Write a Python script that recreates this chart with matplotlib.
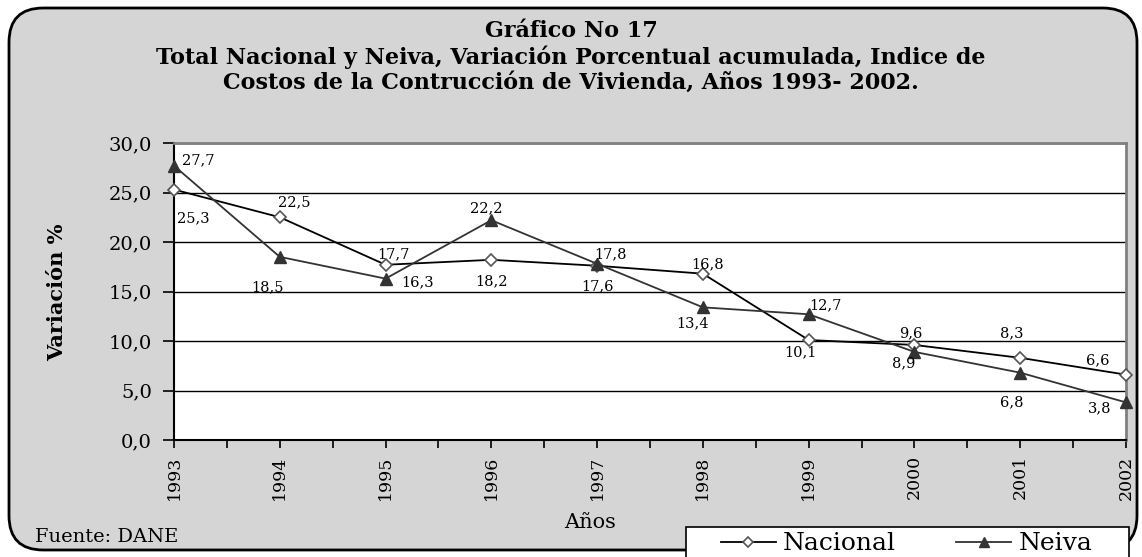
import matplotlib
matplotlib.use("Agg")
import matplotlib.pyplot as plt
from matplotlib.patches import FancyBboxPatch, Rectangle
from matplotlib.ticker import MultipleLocator, FuncFormatter

years = [1993, 1994, 1995, 1996, 1997, 1998, 1999, 2000, 2001, 2002]
nacional = [25.3, 22.5, 17.7, 18.2, 17.6, 16.8, 10.1, 9.6, 8.3, 6.6]
neiva = [27.7, 18.5, 16.3, 22.2, 17.8, 13.4, 12.7, 8.9, 6.8, 3.8]

# label offsets in pixels (layout only)
nac_off = [(19, -29), (14, 15), (8, 10), (0, -21), (0, -21), (5, 9), (-8, -12), (-4, 12), (-8, 25), (-28, 14)]
nei_off = [(24, 5), (-12, -30), (32, -4), (-5, 12), (13, 9), (-10, -16), (17, 9), (-11, -11), (-8, -30), (-26, -6)]

SERIF = "DejaVu Serif"
plt.rcParams['font.family'] = SERIF

fig = plt.figure(figsize=(11.42, 5.57), dpi=100)
fig.patch.set_facecolor("white")

bg = FancyBboxPatch((9 / 1142, 7 / 557), (1128 / 1142), (542 / 557),
                    boxstyle="round,pad=0,rounding_size=0.03",
                    transform=fig.transFigure, facecolor="#d5d5d5",
                    edgecolor="black", linewidth=2, zorder=-10,
                    mutation_aspect=1142 / 557)
fig.patches.append(bg)

ax = fig.add_axes([174 / 1142, (557 - 440) / 557, (1126 - 174) / 1142, (440 - 143) / 557])
ax.set_zorder(2)
ax.set_facecolor("white")

l1, = ax.plot(years, nacional, color="black", lw=1.3, marker="D", markersize=6,
              markerfacecolor="white", markeredgecolor="#555555", markeredgewidth=1.2,
              clip_on=False, zorder=4, label="Nacional")
l2, = ax.plot(years, neiva, color="#333333", lw=1.3, marker="^", markersize=9,
              markerfacecolor="#333333", markeredgecolor="#333333",
              clip_on=False, zorder=4, label="Neiva")

def fmt(v):
    return f"{v:.1f}".replace(".", ",")

for x, y, (dx, dy) in zip(years, nacional, nac_off):
    ax.annotate(fmt(y), (x, y), xytext=(dx, dy), textcoords="offset pixels",
                ha="center", va="center", fontsize=10.5, family=SERIF, zorder=5)
for x, y, (dx, dy) in zip(years, neiva, nei_off):
    ax.annotate(fmt(y), (x, y), xytext=(dx, dy), textcoords="offset pixels",
                ha="center", va="center", fontsize=10.5, family=SERIF, zorder=5)

ax.set_xlim(1993, 2002)
ax.set_ylim(0, 30)
ax.yaxis.set_major_locator(MultipleLocator(5))
ax.yaxis.set_major_formatter(FuncFormatter(lambda v, p: fmt(v)))
ax.set_xticks(years)
ax.set_xticklabels([str(y) for y in years], rotation=90, fontsize=12.5)
ax.xaxis.set_minor_locator(MultipleLocator(0.5))
ax.tick_params(axis="y", labelsize=14, direction="out", length=8, width=1.2, pad=8)
ax.tick_params(axis="x", which="both", direction="out", length=6, width=1.2, pad=5)
ax.grid(axis="y", color="black", lw=1)
ax.set_axisbelow(True)
for s in ["left", "bottom"]:
    ax.spines[s].set_color("black")
    ax.spines[s].set_linewidth(1.5)
for s in ["top", "right"]:
    ax.spines[s].set_color("#808080")
    ax.spines[s].set_linewidth(2)

fig.text(57 / 1142, 1 - 292 / 557, "Variación %", rotation=90, ha="center", va="center",
         fontsize=15, fontweight="bold")
fig.text(590 / 1142, 1 - 522 / 557, "Años", ha="center", va="center", fontsize=15)
fig.text(35 / 1142, 1 - 537 / 557, "Fuente: DANE", ha="left", va="center", fontsize=14)

TS = 16
fig.text(571 / 1142, 1 - 31 / 557, "Gráfico No 17", ha="center", va="center",
         fontsize=TS, fontweight="bold")
fig.text(571 / 1142, 1 - 57 / 557,
         "Total Nacional y Neiva, Variación Porcentual acumulada, Indice de",
         ha="center", va="center", fontsize=TS, fontweight="bold")
fig.text(571 / 1142, 1 - 83 / 557,
         "Costos de la Contrucción de Vivienda, Años 1993- 2002.",
         ha="center", va="center", fontsize=TS, fontweight="bold")

box = Rectangle((686 / 1142, -0.01), (1129 - 686) / 1142, (557 - 527) / 557 + 0.01,
                transform=fig.transFigure, facecolor="white", edgecolor="black",
                linewidth=1.2, zorder=9)
fig.patches.append(box)

leg = fig.legend(handles=[l1, l2], loc="center left",
                 bbox_to_anchor=(708 / 1142, 1 - 544 / 557), ncol=2, fontsize=18,
                 frameon=False, handlelength=2.2, borderpad=0.0, handletextpad=0.3,
                 columnspacing=2.4, markerscale=0.85)
leg.set_zorder(10)

fig.savefig("out.png", dpi=100)
